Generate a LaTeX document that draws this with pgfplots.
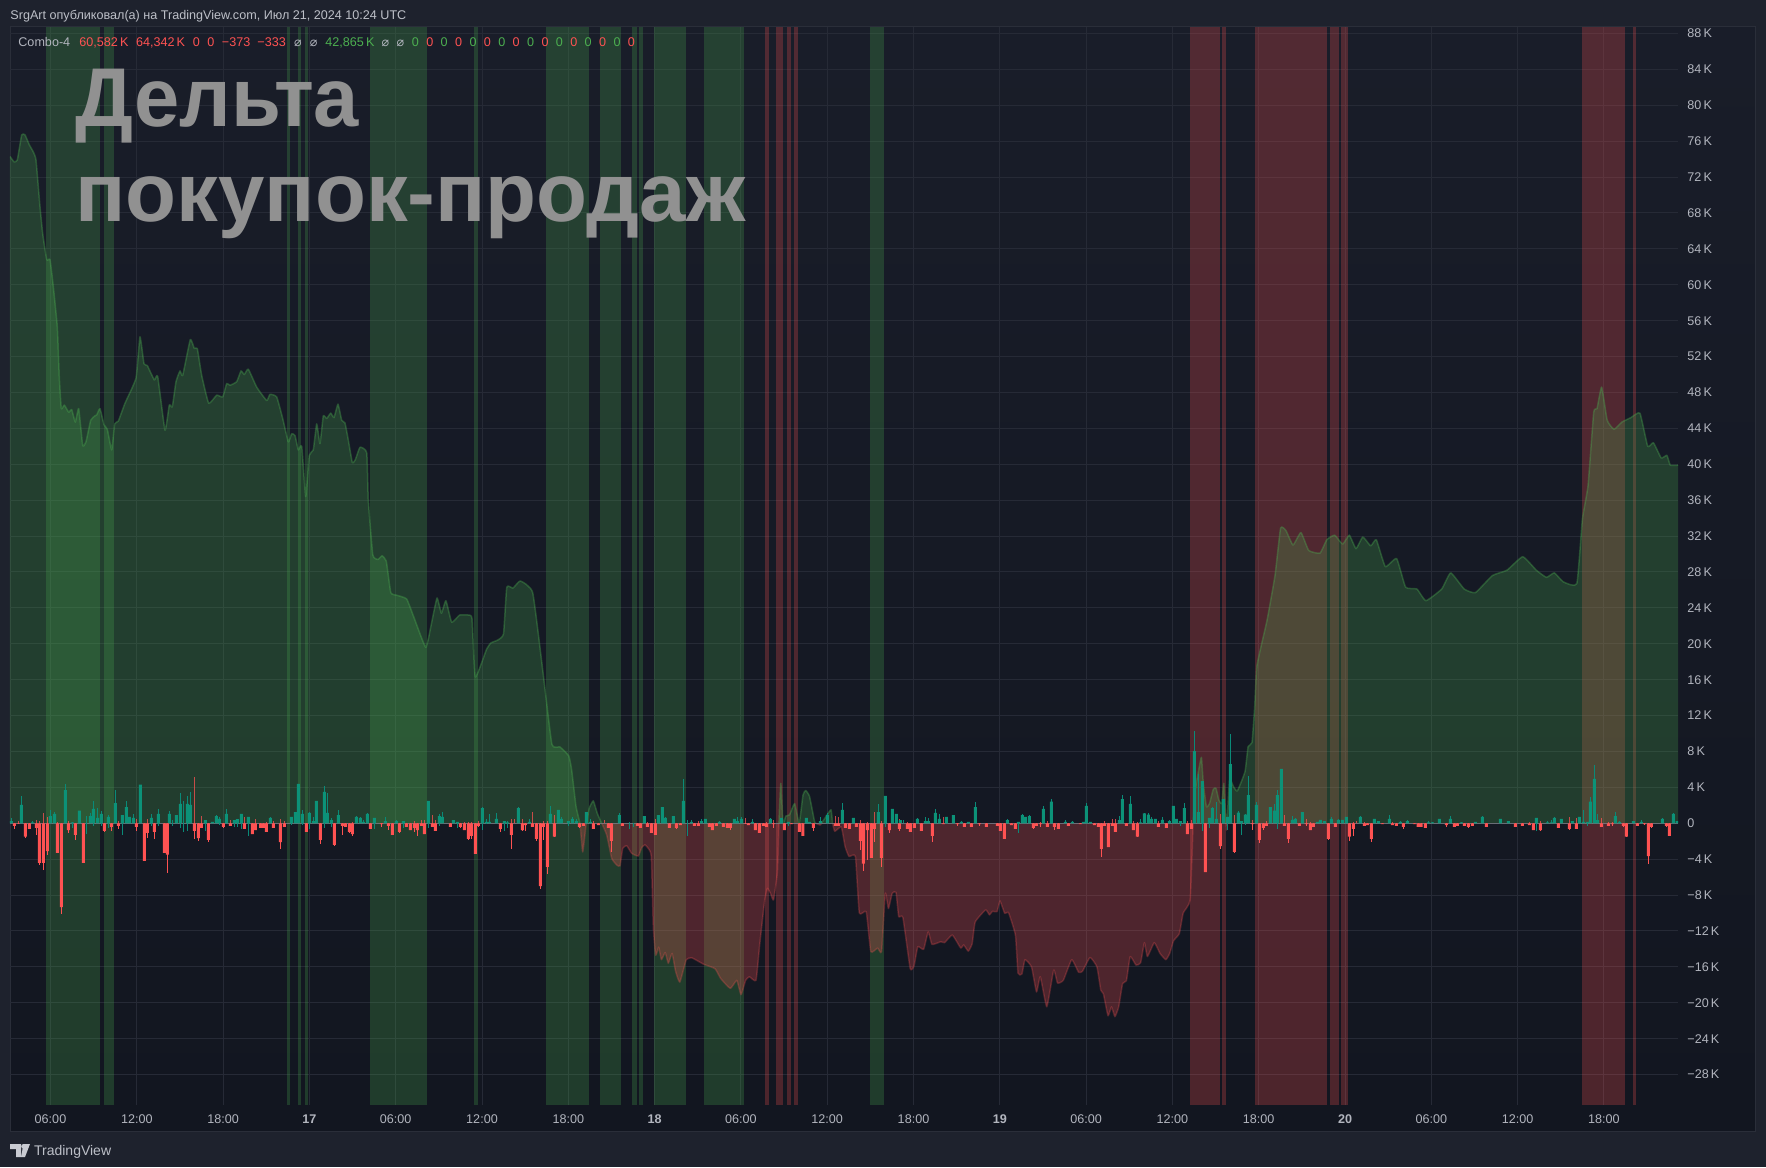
\documentclass[border=0pt]{standalone}
\usepackage{fontspec}
\setmainfont{Liberation Sans}
\newfontfamily\symfont{DejaVu Sans}
\usepackage{pgfplots}
\usepackage{pgfplotstable}
\pgfplotsset{compat=1.18}

% x is in pixels of the 1766 px wide chart, y in thousands
\definecolor{framebg}{HTML}{1E222D}
\definecolor{panetop}{HTML}{191D29}
\definecolor{panebot}{HTML}{121620}
\definecolor{paneline}{HTML}{2A2E39}
\definecolor{gridc}{HTML}{262A36}
\definecolor{lab}{HTML}{B2B5BE}
\definecolor{upc}{HTML}{4CAF50}
\definecolor{dnc}{HTML}{FF5252}
\definecolor{candleg}{HTML}{0C9278}
\definecolor{wickg}{HTML}{0A8A78}
\definecolor{dojic}{HTML}{787B86}

\newcommand{\gband}[2]{\addplot[draw=none,fill=upc,fill opacity=.25,forget plot] coordinates {(#1,-31.39)(#1,88.72)(#2,88.72)(#2,-31.39)} --cycle;}
\newcommand{\rband}[2]{\addplot[draw=none,fill=dnc,fill opacity=.25,forget plot] coordinates {(#1,-31.39)(#1,88.72)(#2,88.72)(#2,-31.39)} --cycle;}

\pgfplotstableread{
x k
10 74.3
14 73.7
17.3 73.9
21.7 76.7
25 76.7
29.3 75.6
33.3 74.8
36 73.9
40 68.7
42.7 65.7
46.7 62.8
50 62.8
53.3 59.8
57.3 55.3
59.3 49.7
61.3 46.2
64.3 46.6
68.7 45.8
71.7 46.1
75.3 44.7
78.7 46.2
82.7 42.1
86 42.5
90.7 44.9
95 45.4
96.7 45.5
100 46.2
104 44.4
107.3 43.9
111.7 41.6
114.7 44.5
118.3 44.8
125 46.8
136 49.6
140 54.2
144 51.2
147.3 51
154.3 49.4
157.7 49.8
165 43.8
169.3 46.6
172.3 46.4
176 49.2
180 50.4
182.7 49.9
190.3 53.9
194.3 52.9
197.3 52.9
201.7 49.9
208.7 46.8
216.7 47.7
222.7 47.5
226.7 49
230 48.8
236.7 49.2
241 50.4
244.3 50
248.3 50.6
256.7 48.6
266.7 47.1
270 47.8
276.7 47.5
282.7 45.1
288.3 42.5
291.7 43.4
295 43.2
298.3 41.6
301.7 42
305.7 36.4
309.3 41
313.3 41.6
316.7 44.5
320 42.3
323.3 45.4
326.7 45.1
330.7 45.7
334 45.2
338 46.7
341.7 44.9
345 44.6
348.3 42.7
352.3 40.2
355.3 40.5
360 41.9
366.7 41.3
368.3 36
372.8 29.9
378 29.4
382 29.8
386.3 29.2
390.8 25.7
397 25.4
406.6 25
413.4 23.1
425.7 19.6
431 22
437 25.1
441.4 23.4
445.9 24.8
451.7 22.4
459.6 23.2
468.5 23.2
472 22.8
475.3 16.3
486.6 19.4
491 20.1
497.5 20.4
503.5 21.1
506.8 26.3
513 26.2
520.3 27
532.7 25.7
542.9 16.9
551.9 8.8
560 8.5
568.8 7.5
571.7 5.9
576 1.9
580 0
582.7 -3.2
586 -0.2
586.5 0
589.3 1.7
593.3 2.5
597.3 1.1
601.7 0
606.7 -1.3
611.7 -3.9
616.7 -4.65
620 -4.75
622.7 -2.8
626.7 -2.5
631.7 -3.35
638.3 -3.65
641.7 -2.7
645 -2.4
648.3 -2.8
651.3 -3.7
653.3 -11.5
655.7 -14.7
658.7 -13.8
661.4 -15.2
665.2 -14.4
668.3 -15.6
672.1 -14.5
675.6 -16.5
679.8 -17.7
686.3 -15.2
692 -15
703.5 -15.7
715 -16.2
720.7 -17.3
730.3 -18.4
736.8 -17.5
741 -19.1
745.6 -17.5
749.4 -17.1
756 -17.5
759.8 -13.4
764.7 -8.55
767.4 -7.25
770.5 -7.8
773.5 -8.55
777.4 -5.4
778.9 0
780.8 4.45
783 0
785.8 0.8
789.6 0.95
794.6 2.2
799.2 0
803 3.15
805.7 3.65
809.5 3
814.5 0.2
815.5 0
820.2 -0.2
821.5 0
826 0.75
831 1.5
832.5 0
834.8 -0.9
841.3 -0.4
845.1 -2.6
849 -3.7
855.4 -3.7
859.3 -10
866.2 -9.85
870.8 -14.3
877.6 -13.9
881.5 -14.3
885.3 -7.8
888.4 -9.5
892.2 -7.8
896 -7.7
898.7 -10.4
902.9 -10.5
910.2 -16.2
914 -15.9
917.8 -13.75
923.6 -14.05
928.2 -12.1
932 -13.5
940.8 -13.2
944.6 -13.3
952.3 -12.45
960.7 -13.9
963.7 -13.55
968.3 -14.25
972.2 -13.4
975.2 -11
985.6 -9.65
989.4 -10.2
992.5 -9.8
997 -9.85
1000 -8.65
1004.7 -10.05
1008.5 -9.95
1015.4 -12.45
1018 -16.7
1021.9 -16.8
1025 -15.2
1031.5 -16
1036.5 -18.8
1040.3 -17.1
1046.8 -20.45
1053.7 -16.35
1057.5 -17.8
1063.3 -17.5
1071.7 -15.2
1078.6 -16.6
1082.4 -16.5
1090 -14.95
1096.9 -16
1100.8 -18.6
1103.4 -19
1108 -21.45
1111.5 -20.45
1114.9 -21.55
1118.7 -20.45
1122.6 -17.85
1126.4 -17.55
1130.2 -14.85
1136 -15.8
1140.6 -15.55
1144.4 -13.3
1147.4 -14.85
1154.3 -13.3
1160 -14.5
1165.8 -15.2
1169.7 -14.5
1173.5 -13.1
1179.3 -12.3
1183.2 -10
1190.1 -8.55
1192.9 -0.75
1193.2 0
1194.8 3.35
1198.7 5.95
1201.4 7.35
1203.3 4.45
1206.4 1.85
1209.5 2.2
1213.3 3.8
1216 3.9
1218.8 2.6
1221.8 2.2
1223.8 4.45
1226 0
1226.5 -0.75
1227 0
1229.6 4.85
1233.4 4.1
1237.3 3.6
1245 5.75
1248.1 8.55
1252 9
1254.7 13
1257 17.6
1267 22.6
1275 27.6
1280.6 32.9
1286 32.6
1293 31
1300.9 32.4
1308.7 30.4
1320 30.1
1326.8 31.6
1334.7 32.1
1342.6 31.1
1349.3 32.1
1356 30.6
1362.8 31.9
1370.7 30.9
1376.3 31.6
1385.3 28.6
1396.6 29.5
1405.6 26.3
1416.9 26.1
1425.9 24.8
1441.7 26.1
1450.7 27.9
1464.2 26.1
1475.4 25.7
1492.4 27.6
1507 28.2
1522.7 29.7
1536.3 28.2
1546.4 27.4
1554.3 27.9
1563.3 26.9
1576.8 26.7
1582.4 33.9
1588 37.6
1593.7 45.8
1597 46.2
1601.6 48.6
1607.2 44.9
1614 43.9
1621.9 44.7
1630.9 45.2
1639.9 45.7
1647.7 42
1653.4 42.4
1661.2 40.7
1666.9 41
1670.3 39.9
1678 39.9
}\deltaT

% candle tables: x, body, upper wick end, lower wick end
\pgfplotstableread{
x body hi lo
11.5 0.25 0.55 0
21.5 2.05 3.05 0
32.7 0.1 0.25 0
50.5 0.8 1.5 0
54.5 1.05 1.25 0
65.3 3.7 4.4 0
72.3 0.1 0.15 -0.55
79.3 1.4 1.4 0
86.3 0 0.8 -1.2
90.3 0.8 1.1 0
93.3 1.6 2.5 -0.35
97.7 0.6 1.7 0
101.3 1.05 1.4 -0.3
108.3 0.7 0.9 -0.55
115.3 2.25 3.7 0
122.3 0.9 0.9 -1.3
126.3 1.8 2.5 0
129.3 0.7 0.7 0
133.3 0.6 1.05 0
140.3 4.3 4.3 0
151.3 0.6 1.05 -0.35
158.3 1.05 1.6 -0.3
169.3 1.05 1.4 0
172.3 0 0.35 -0.3
176.3 0.9 0.9 0
180.3 2.15 3.4 -0.5
183.3 0 2.5 -1
187.3 2.15 3.05 -0.85
190.3 2.05 3.5 0
205.3 0.35 0.35 -0.85
212.3 0.15 0.15 0
216.3 0.8 0.9 0
219.3 0.5 0.7 -0.2
226.3 1.05 1.6 0
234.3 0.35 0.35 -0.4
237.3 0.45 0.45 -0.4
241.3 1.05 1.05 -0.6
248.3 0.7 0.7 -1.4
270.3 0.6 0.75 0
291.3 0.7 0.7 -0.15
295.3 1.25 1.25 0
298.3 4.4 4.4 0
302.3 1.05 1.5 -0.15
309.3 1.15 1.25 -0.6
313.3 0.25 0.7 0
316.3 2.5 2.5 0
324.3 3.5 4.15 -0.5
327.3 1.15 3.4 0
331.3 0.35 0.6 -0.4
338.3 0.9 1.5 0
356.3 0.7 0.8 0
360.3 0.6 0.7 0
363.3 0.15 0.35 0
367.3 1.05 1.15 0
374.3 0.6 0.6 -0.6
385.3 0.25 0.7 0
396.3 0.25 0.35 0
403.3 0.25 0.25 -0.5
428.3 2.5 2.5 -0.5
439.3 0.8 1.05 -0.3
442.3 0.7 1.25 0
453.3 0.35 0.35 0
457.3 0.15 0.15 -0.5
482.3 1.7 1.8 -0.75
486.3 0.15 0.5 -0.1
489.3 0.15 1.05 0
496.3 0.5 1.15 0
504.3 0.25 0.3 -0.85
507.3 0.1 0.3 -0.5
518.3 1.7 1.8 0
529.3 0.15 0.5 0
550.3 1.05 1.95 0
558.3 1.5 1.5 0
561.3 0.5 0.7 0
568.3 0.25 0.25 -0.3
572.3 0.5 0.7 0
576.3 0.25 0.5 0
586.3 1.25 1.25 0
590.3 0.15 0.5 0
619.3 0.9 1.15 0
629.3 0 0.1 -0.63
633.3 0 0 -0.4
644.3 0.8 0.8 0
658.3 0.9 0.9 0
662.3 1.8 1.8 0
665.3 0.6 0.7 0
673.3 0.8 0.8 0
683.3 2.5 4.95 0
687.3 0 0.35 -1.4
691.3 0.15 0.35 0
701.3 0.25 0.5 0
705.3 0.5 0.5 0
719.3 0.15 0.25 0
734.3 0.5 0.5 0
737.3 0.25 0.7 0
741.3 0.5 0.7 0
752.3 0.15 0.5 0
770.3 0.5 0.6 0
781.3 0.6 0.6 0
788.3 0.15 0.15 -0.3
806.3 0.6 0.6 0
809.3 0.15 0.15 0
820.3 0.25 0.7 0
827.3 0.9 1.15 0
842.3 1.5 2.25 0
853.3 0.6 0.6 0
878.3 1.25 2.15 0
885.3 3.05 3.05 -0.4
892.3 1.6 1.6 0
896.3 1.05 1.05 0
900.3 0.35 0.35 0
903.3 0 0.35 0
917.3 0.5 0.6 0
925.3 0.25 0.7 0
928.3 0.25 0.6 0
935.3 1.15 1.6 0
939.3 0.5 1.05 0
946.3 0.7 0.7 0
953.3 0.9 0.9 0
961.3 0.15 0.25 0
968.3 0.15 0.15 0
975.3 1.8 2.4 0
1007.3 0.35 0.5 0
1018.3 0.15 0.15 -1.08
1022.3 0.9 1.05 0
1025.3 0.7 0.7 0
1029.3 0.8 0.9 0
1043.3 1.6 1.95 0
1051.3 2.4 2.7 0
1065.3 0.15 0.35 0
1072.3 0.15 0.25 0
1083.3 0.15 0.15 0
1086.3 1.95 2.25 0
1090.3 0.15 0.15 0
1119.3 0.35 0.8 0
1122.3 2.7 3.15 0
1130.3 2.15 3.05 0
1140.3 0.1 0.5 0
1144.3 1.1 1.2 0
1148.3 0.95 1.15 0
1151.3 0.5 0.7 0
1155.3 0.5 0.5 0
1162.3 0.37 0.7 0
1169.3 0.25 0.37 0
1173.3 1.95 1.95 0
1176.3 0.5 0.5 0
1180.3 0.25 0.25 -0.3
1184.3 1.7 2.25 0
1194.3 8.05 10.3 0
1198.3 1.25 5.5 0
1202.3 4.7 4.7 -0.85
1209.3 0.6 0.6 -0.5
1212.3 1.7 1.8 0
1216.3 0.5 2.4 0
1223.3 2.7 2.7 0
1227.3 0.7 0.7 -0.8
1230.3 6.6 9.95 0
1238.3 1.2 1.35 0
1241.3 0.25 0.25 -1.3
1245.3 0.95 1.05 -0.15
1248.3 3.15 5.3 0
1256.3 2.05 2.4 0
1270.3 1.8 1.8 0
1274.3 1.4 2.15 0
1277.3 3.15 3.7 -0.63
1281.3 6.05 6.05 0
1292.3 0.37 0.8 0
1295.3 0.5 0.6 0
1302.3 1.25 1.25 0
1317.3 0.15 0.15 0
1320.3 0.37 0.37 0
1324.3 0.25 0.25 0
1331.3 0.5 0.7 0
1338.3 0.37 0.5 0
1342.3 0.37 0.37 0
1346.3 0.7 0.7 0
1360.3 0.7 0.8 0
1374.3 0.5 0.5 0
1378.3 0.25 0.25 0
1389.3 0.5 0.95 0
1400.3 0.15 0.25 0
1407.3 0.25 0.37 0
1428.3 0.1 0.25 0
1432.3 0.1 0.1 0
1439.3 0.5 0.5 0
1450.3 0.5 0.8 0
1461.3 0.1 0.15 0
1475.3 0.15 0.15 0
1482.3 0.7 0.8 0
1500.3 0.5 0.5 0
1508.3 0.25 0.25 0
1536.3 0.6 0.6 -0.85
1547.3 0.1 0.25 0
1551.3 0.1 0.35 0
1554.3 0.6 0.7 0
1561.3 0.5 0.5 0
1572.3 0.25 0.25 0
1579.3 0.7 0.7 0
1583.3 0.15 1.5 0
1587.3 0.15 0.15 -0.3
1590.3 2.4 2.95 0
1594.3 4.95 6.5 0
1597.3 0.35 1.05 0
1615.3 0.8 1.25 0
1619.3 0.15 0.25 0
1633.3 0.25 0.25 0
1641.3 0.15 0.35 0
1662.3 0.5 0.6 0
1673.3 1.05 1.15 0
1677 0.25 0.25 0
}\upT

\pgfplotstableread{
x body hi lo
14.3 -0.3 0 -0.63
18.3 -0.05 0.25 -0.1
25.3 -1.5 0 -1.6
29.3 -0.63 0 -0.63
36.3 -0.5 0.35 -1.3
39.3 -4.4 0.25 -4.65
43.3 -4.4 1.15 -5.2
47.3 -3.1 0.7 -3.5
57.3 -3.3 0.15 -3.3
61.3 -9.33 0 -10.1
68.3 -0.75 0.25 -1.1
75.3 -1.3 0 -1.85
83.3 -4.4 0 -4.4
104.3 -0.85 0 -0.97
111.3 -0.4 0 -0.85
118.3 -0.3 0.25 -0.63
136.3 -0.4 0.5 -0.85
144.3 -4.2 0 -4.2
147.3 -1.08 0.5 -1.65
154.3 -0.97 0 -1.75
164.3 -3.3 0 -3.3
167.3 -3.5 0 -5.5
194.3 -0.85 5.15 -1.75
198.3 -1.65 0 -2
201.3 -0.5 0.8 -0.5
208.3 -1.85 0 -2.1
223.3 -0.4 0 -0.5
230.3 -0.3 0.35 -0.3
244.3 -0.63 0.7 -0.63
252.3 -1.2 0 -1.2
255.3 -0.75 0.5 -0.75
260.5 -0.5 0 -0.5
263.5 -0.5 0 -0.5
266.3 -0.97 0.15 -0.97
273.3 -0.5 0.25 -0.5
280.3 -2.1 0.5 -2.85
284.3 -0.4 0.25 -0.4
306.3 -0.97 0 -0.97
320.3 -1.85 0 -2.3
334.3 -2.4 0 -2.5
342.3 -0.3 0 -1.3
345.3 -0.4 0 -0.4
349.3 -0.97 0 -1.08
352.3 -1.2 0.15 -1.4
370.3 -0.63 0 -0.63
381.3 -0.1 0 -0.4
388.3 -0.3 0 -0.75
392.3 -1.3 0 -1.3
399.3 -0.97 0 -1.08
406.3 -0.4 0 -0.4
410.3 -0.75 0 -0.75
414.3 -0.5 0.25 -0.97
417.3 -0.75 0 -1.4
421.3 -0.3 0.35 -0.3
424.3 -1.2 0.35 -1.2
432.3 -0.4 0.9 -0.4
435.3 -0.85 0.35 -0.85
450.3 -0.4 0 -0.4
460.3 -0.4 0 -0.5
464.3 -0.75 0.15 -0.75
468.3 -1.75 0.15 -1.85
471.3 -1.4 0.15 -1.75
475.3 -3.4 0 -3.4
478.3 -0.3 0.25 -0.4
500.3 -0.63 0 -0.97
511.3 -1.3 0.5 -2.85
514.3 0 0.5 0
522.3 -0.75 0.5 -0.85
525.3 -0.2 0 -0.85
532.3 -0.4 1.25 -0.4
536.3 -1.75 0 -1.97
540.3 -7 0 -7.3
543.3 -0.4 0.25 -1.85
547.3 -4.87 0.25 -5.65
554.3 -1.5 0.9 -1.5
579.3 -0.4 0 -0.5
583.3 -0.3 0 -0.3
593.3 -0.63 0.25 -0.63
598.3 -0.2 0 -0.2
604.3 0 0.35 0
608.3 -0.5 0 -0.5
611.3 -1.97 0 -3.2
622.3 -0.3 0 -0.3
637.3 -0.3 0 -0.3
640.3 -0.5 0 -0.5
647.3 -0.4 0.15 -0.4
651.3 -1.08 0 -1.08
655.3 -1.3 0.5 -1.3
669.3 -0.5 0 -0.5
676.3 -0.5 0 -0.63
680.3 -0.2 0 -0.2
694.3 -0.3 0 -0.3
698.3 -0.3 0.25 -0.3
709.3 -0.4 0 -0.4
712.3 -0.75 0 -0.75
716.3 -0.3 0 -0.3
723.3 -0.4 0 -0.4
727.3 -0.5 0 -0.5
730.3 -0.5 0 -0.75
745.3 -0.05 0.6 -0.05
748.3 -0.2 0 -0.2
755.3 -0.75 0 -0.75
759.3 -1.08 0 -1.08
763.3 -0.3 0 -0.3
766.3 -0.4 0.15 -0.4
773.3 -0.1 0.35 -0.5
784.3 -0.75 0 -0.75
791.3 -0.1 0 -0.1
799.3 -0.97 0 -0.97
802.9 -1.4 0 -1.4
813.3 -0.5 0 -0.85
835.3 -0.3 0.8 -0.3
838.3 -0.3 0.7 -0.3
845.3 -0.5 0 -0.5
849.3 -0.63 0 -0.63
856.3 -0.4 0 -0.4
860.3 -1.97 0.35 -3
863.3 -4.5 0 -5.3
867.3 -0.75 0.15 -4.1
871.3 -3.85 0 -3.85
874.3 -0.63 1.25 -2.1
881.3 -3.85 0.25 -4.87
889.3 -0.75 0 -1.08
899.3 -0.63 0.5 -0.85
907.3 -0.63 0.15 -0.63
910.3 -0.97 0 -0.97
914.3 -0.5 0 -0.5
921.3 -0.85 0 -0.85
932.3 -1.4 0 -2.1
943.3 -0.1 0.7 -0.1
957.3 -0.1 0 -0.3
964.3 -0.4 0 -0.4
971.3 -0.4 0 -0.4
979.3 -0.1 0 -0.3
986.3 -0.4 0 -0.4
997.3 -0.3 0 -0.3
1000.3 -0.85 0 -0.85
1004.3 -1.75 0 -1.75
1011.3 -0.2 0 -0.2
1015.3 -0.63 0 -0.63
1033.3 -0.5 0 -0.63
1036.3 -0.3 0 -0.3
1040.3 -0.1 0.15 -0.4
1047.3 -0.4 0.25 -0.4
1054.3 -0.4 0 -0.75
1058.3 -0.63 0 -0.63
1068.3 -0.3 0 -0.3
1080.3 -0.1 0 -0.1
1094.3 -0.2 0 -0.2
1098.3 -0.4 0 -0.4
1101.3 -2.85 0 -3.75
1104.3 -0.3 0.25 -0.3
1108.3 -2.65 0 -2.65
1112.3 -0.3 0.5 -0.3
1115.3 -0.97 0.5 -0.97
1126.3 -0.3 0 -0.3
1133.3 -0.75 0.25 -0.75
1137.3 -1.5 0.15 -1.5
1158.3 -0.4 0.25 -0.4
1166.3 -0.5 0 -0.5
1187.3 -1.2 0.25 -1.2
1191.3 -0.63 0.37 -0.63
1205.3 -5.43 0 -5.43
1220.3 -2.55 1.05 -2.85
1234.3 -3.2 0.95 -3.3
1252.3 -0.1 0.37 -0.75
1259.3 -1.85 0 -2.2
1263.3 -0.5 0 -0.75
1266.3 -0.3 0.25 -0.3
1284.3 -0.3 0.95 -0.3
1288.3 -1.75 0 -2.2
1299.3 -0.3 0 -0.3
1306.3 -0.1 0.5 -0.3
1310.3 -0.75 0.15 -0.75
1313.3 -0.4 0 -0.4
1328.3 -1.75 0 -1.85
1335.3 -0.4 0 -0.4
1349.3 -1.5 0 -2
1353.3 -0.63 0.15 -1.4
1356.3 0 0.25 0
1364.3 -0.3 0.15 -0.3
1367.3 -0.2 0 -0.2
1371.3 -1.75 0 -2.1
1382.3 -0.1 0 -0.1
1392.3 -0.2 0.15 -0.2
1396.3 -0.3 0 -0.3
1403.3 -0.4 0 -0.63
1414.3 -0.1 0 -0.1
1418 -0.4 0 -0.4
1421 -0.4 0 -0.4
1425.3 -0.5 0 -0.5
1446.3 -0.2 0 -0.4
1454.3 -0.4 0 -0.4
1457.3 -0.3 0 -0.3
1464.3 -0.3 0 -0.3
1468.3 -0.4 0 -0.5
1472.3 -0.3 0 -0.3
1486.3 -0.4 0 -0.4
1515.3 -0.4 0 -0.4
1522.3 -0.3 0 -0.3
1529.3 -0.2 0.15 -0.2
1533.3 -0.75 0 -0.75
1540.3 -0.75 0.25 -0.85
1558.3 -0.5 0 -0.5
1569.3 -0.63 0.7 -0.75
1576.3 -0.63 0.6 -0.63
1601.3 -0.4 0.6 -0.4
1608.3 -0.3 0.15 -0.3
1612.3 -0.1 0.15 -0.3
1623.3 -0.3 0 -0.4
1626.3 -1.5 0 -1.5
1637.3 -0.3 0 -0.3
1644.3 -0.1 0 -0.15
1648.3 -3.65 0 -4.55
1651.3 -0.4 0 -0.5
1666.3 -0.3 0 -0.4
1669.3 -1.4 0 -1.4
}\dnT

\begin{document}
\begin{tikzpicture}[x=1pt,y=1pt]
% page, chart pane (1 px of the reference = 0.5 pt)
\fill[framebg] (0,0) rectangle (883,583.5);
\shade[top color=panetop,bottom color=panebot] (5,17.75) rectangle (877.5,570);
\draw[paneline,line width=.5pt] (5,17.75) rectangle (877.5,570);

\begin{axis}[
    at={(5pt,31pt)}, anchor=south west,
    scale only axis, width=834pt, height=539pt,
    xmin=10, xmax=1678, ymin=-31.39, ymax=88.72,
    axis line style={draw=none},
    major tick length=0pt,
    grid=major, grid style={gridc,line width=.5pt},
    ticklabel style={font=\fontsize{6.3}{8}\selectfont,text=lab,inner sep=0pt},
    xtick={50.5,136.8,223.1,309.4,395.7,482,568.3,654.6,740.9,827.2,913.5,999.8,1086.1,1172.4,1258.7,1345,1431.3,1517.6,1603.9},
    xticklabels={06:00,12:00,18:00,\textbf{17},06:00,12:00,18:00,\textbf{18},06:00,12:00,18:00,\textbf{19},06:00,12:00,18:00,\textbf{20},06:00,12:00,18:00},
    xticklabel pos=bottom,
    xticklabel style={yshift=-4.5pt},
    ytick={-28,-24,...,88},
    yticklabels={−28\,K,−24\,K,−20\,K,−16\,K,−12\,K,−8\,K,−4\,K,0,4\,K,8\,K,12\,K,16\,K,20\,K,24\,K,28\,K,32\,K,36\,K,40\,K,44\,K,48\,K,52\,K,56\,K,60\,K,64\,K,68\,K,72\,K,76\,K,80\,K,84\,K,88\,K},
    yticklabel pos=right,
    yticklabel style={anchor=west,xshift=4.5pt},
]
% shaded delta regimes
\gband{46}{100}
\gband{103.5}{113.8}
\gband{287.3}{290}
\gband{297.7}{301}
\gband{305}{307.5}
\gband{370}{427}
\gband{474}{477.7}
\gband{545.8}{589}
\gband{600.2}{620.8}
\gband{632}{636.5}
\gband{638.8}{643}
\gband{654}{686}
\gband{703.9}{743.7}
\gband{870}{884.2}
\rband{765}{769}
\rband{775.8}{783}
\rband{787}{791}
\rband{794.2}{798}
\rband{1190}{1219.5}
\rband{1221.8}{1226}
\rband{1255}{1327}
\rband{1330}{1338.6}
\rband{1341}{1347.5}
\rband{1582}{1625}
\rband{1633}{1636}

% cumulative delta, green above zero and red below
\addplot[draw=none,fill=upc,fill opacity=.25,forget plot,smooth,tension=.25] table[x=x,y expr={max(\thisrow{k},0)}] {\deltaT} \closedcycle;
\addplot[draw=none,fill=dnc,fill opacity=.25,forget plot,smooth,tension=.25] table[x=x,y expr={min(\thisrow{k},0)}] {\deltaT} \closedcycle;
\addplot[upc,opacity=.35,line width=.75pt,line join=round,smooth,tension=.25,unbounded coords=jump] table[x=x,y expr={\thisrow{k}<0 ? nan : \thisrow{k}}] {\deltaT};
\addplot[dnc,opacity=.25,line width=.75pt,line join=round,smooth,tension=.25,unbounded coords=jump] table[x=x,y expr={\thisrow{k}>0 ? nan : \thisrow{k}}] {\deltaT};

% 15 minute delta candles
\addplot[dojic,opacity=.8,line width=.5pt] coordinates {(10,0)(1678,0)};
\addplot[ycomb,wickg,line width=.5pt] table[x=x,y=hi] {\upT};
\addplot[ycomb,wickg,line width=.5pt] table[x=x,y=lo] {\upT};
\addplot[ycomb,dnc,opacity=.75,line width=.5pt] table[x=x,y=hi] {\dnT};
\addplot[ycomb,dnc,line width=.5pt] table[x=x,y=lo] {\dnT};
\addplot[ybar,bar shift=0pt,bar width=1.5pt,fill=candleg,draw=none] table[x=x,y=body] {\upT};
\addplot[ybar,bar shift=0pt,bar width=1.5pt,fill=dnc,draw=none] table[x=x,y=body] {\dnT};
\end{axis}

% header, indicator values, watermark, all placed in reference pixels
\begin{scope}[x=.5pt,y=-.5pt,shift={(0pt,583.5pt)}]
\fontsize{6.3}{8}\selectfont
\node[anchor=base west,inner sep=0,text=lab!85!white] at (10,19.5) {SrgArt опубликовал(а) на TradingView.com, Июл 21, 2024 10:24 UTC};
\node[anchor=base west,inner sep=0,text=lab] at (18,47) {Combo-4};
\node[anchor=base west,inner sep=0,text=dnc] at (79,47) {60,582\,K};
\node[anchor=base west,inner sep=0,text=dnc] at (135.7,47) {64,342\,K};
\node[anchor=base,inner sep=0,text=dnc] at (196.5,47) {0};
\node[anchor=base,inner sep=0,text=dnc] at (211,47) {0};
\node[anchor=base west,inner sep=0,text=dnc] at (221.5,47) {−373};
\node[anchor=base west,inner sep=0,text=dnc] at (257,47) {−333};
\node[anchor=base,inner sep=0,text=lab] at (298,47) {\symfont ⌀};
\node[anchor=base,inner sep=0,text=lab] at (313.6,47) {\symfont ⌀};
\node[anchor=base west,inner sep=0,text=upc] at (325,47) {42,865\,K};
\node[anchor=base,inner sep=0,text=lab] at (385.5,47) {\symfont ⌀};
\node[anchor=base,inner sep=0,text=lab] at (400.5,47) {\symfont ⌀};
\foreach \i in {0,2,...,14} {
  \node[anchor=base,inner sep=0,text=upc] at ({415.4+14.4*\i},47) {0};
  \node[anchor=base,inner sep=0,text=dnc] at ({429.8+14.4*\i},47) {0};
}
\node[anchor=base west,inner sep=0,text=black!43!white,xscale=.975,font=\fontsize{41.7}{44}\selectfont\bfseries] at (75,127) {Дельта};
\node[anchor=base west,inner sep=0,text=black!43!white,font=\fontsize{41.7}{44}\selectfont\bfseries] at (75,222) {покупок-продаж};
% logo and footer
\fill[lab!70!white] (10,1144) -- (21,1144) -- (21,1157) -- (16,1157) -- (16,1149) -- (10,1149) -- cycle;
\fill[lab!70!white] (23.6,1146.4) circle (2.4);
\fill[lab!70!white] (25,1157) -- (30,1144) -- (23.5,1144) -- (21,1157) -- cycle;
\node[anchor=base west,inner sep=0,text=lab!85!white,font=\fontsize{7}{8}\selectfont] at (33.7,1155) {TradingView};
\end{scope}
\end{tikzpicture}
\end{document}
